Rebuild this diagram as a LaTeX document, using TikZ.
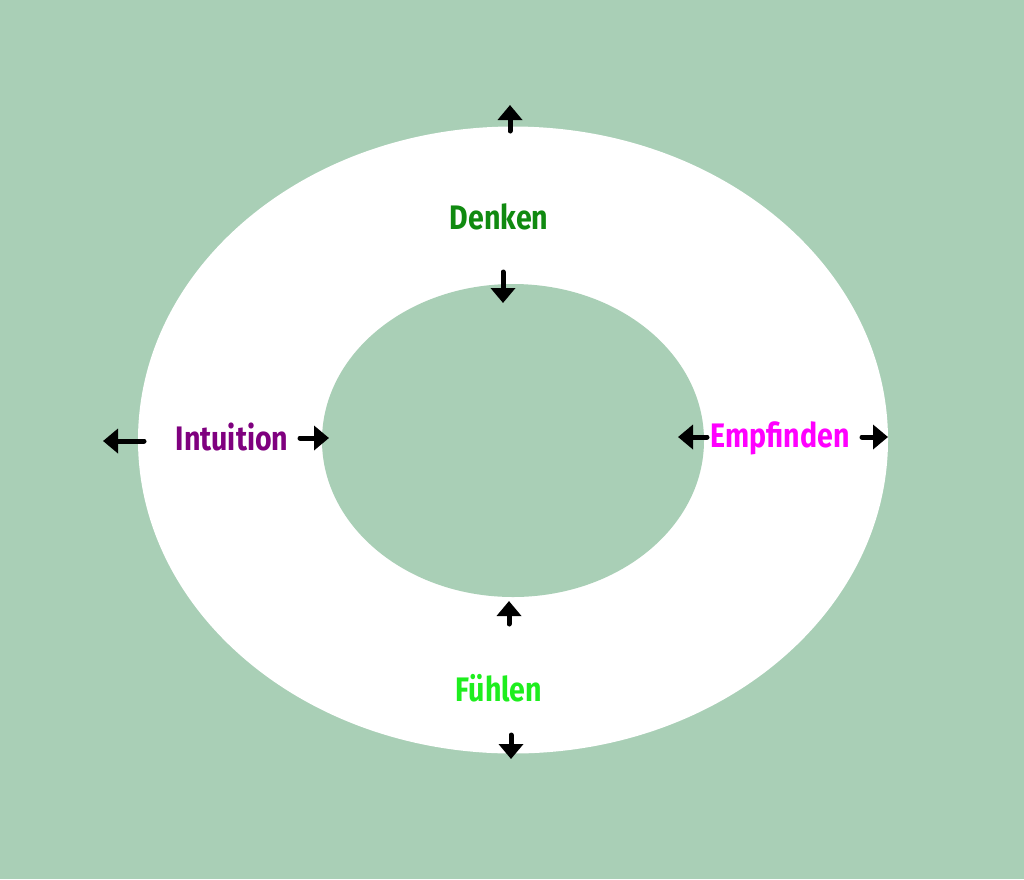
\documentclass[tikz,border=0pt]{standalone}
\usepackage{fontspec}
\setmainfont{Fira Sans}
\newfontfamily\labfont[FakeStretch=0.84]{Fira Sans}
\usetikzlibrary{arrows.meta}
\definecolor{bg}{HTML}{A9CFB6}
\definecolor{cDenken}{HTML}{108A10}
\definecolor{cIntu}{HTML}{7F007F}
\definecolor{cEmpf}{HTML}{FF00FF}
\definecolor{cFuehl}{HTML}{1EEE1E}
\tikzset{
  lab/.style={font=\labfont\bfseries\fontsize{34}{34}\selectfont, inner sep=0pt, anchor=center},
  arr/.style={line width=5pt, line cap=round, -{Triangle[width=24pt, length=15pt]}, black},
}
\begin{document}
\begin{tikzpicture}[x=1pt,y=-1pt]
\fill[bg] (0,0) rectangle (1024,879);
\useasboundingbox (0,0) rectangle (1024,879);
\fill[white] (513,440) ellipse [x radius=375, y radius=313.5];
\fill[bg] (513,440.5) ellipse [x radius=191, y radius=156.5];
\node[lab, text=cDenken] (denken) at (499,217) {Denken};
\node[lab, text=cIntu] (intuition) at (232,437) {Intuition};
\node[lab, text=cEmpf] (empfinden) at (780,438) {Empfinden};
\node[lab, text=cFuehl] (fuehlen) at (499,688) {Fühlen};
% arrows
\coordinate (t1a) at (510,131); \coordinate (t1b) at (510,105);
\coordinate (t2a) at (503,272); \coordinate (t2b) at (503,303);
\coordinate (l1a) at (144,441); \coordinate (l1b) at (103,441);
\coordinate (l2a) at (300,438); \coordinate (l2b) at (329,438);
\coordinate (r1a) at (707,437); \coordinate (r1b) at (678,437);
\coordinate (r2a) at (862,437); \coordinate (r2b) at (888,437);
\coordinate (b1a) at (509,624); \coordinate (b1b) at (509,601);
\coordinate (b2a) at (511,735); \coordinate (b2b) at (511,759);
\draw[arr] (t1a) -- (t1b);
\draw[arr] (t2a) -- (t2b);
\draw[arr] (l1a) -- (l1b);
\draw[arr] (l2a) -- (l2b);
\draw[arr] (r1a) -- (r1b);
\draw[arr] (r2a) -- (r2b);
\draw[arr] (b1a) -- (b1b);
\draw[arr] (b2a) -- (b2b);
\end{tikzpicture}
\end{document}
